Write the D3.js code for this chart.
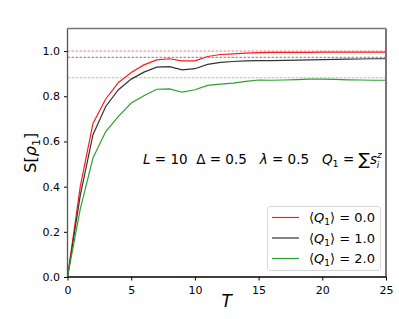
<!DOCTYPE html>
<html>
<head>
<meta charset="utf-8">
<script src="https://cdn.jsdelivr.net/npm/d3@7"></script>
<style>
  body { margin: 0; background: #fff; }
  text { font-family: "DejaVu Sans", sans-serif; white-space: pre; }
</style>
</head>
<body>
<div id="chart"></div>
<script>
var w = 399;
var h = 319;

// T = 0..25
var times = d3.range(0, 26);
var q0 = [0, 0.40, 0.68, 0.788, 0.861, 0.905, 0.939, 0.961, 0.966, 0.957, 0.957, 0.976, 0.985, 0.988, 0.991, 0.993, 0.994, 0.994, 0.994, 0.994, 0.995, 0.995, 0.995, 0.995, 0.995, 0.995];
var q1 = [0, 0.36, 0.63, 0.755, 0.829, 0.876, 0.907, 0.929, 0.931, 0.917, 0.922, 0.941, 0.950, 0.954, 0.957, 0.958, 0.958, 0.959, 0.960, 0.961, 0.962, 0.963, 0.964, 0.965, 0.966, 0.966];
var q2 = [0, 0.30, 0.527, 0.644, 0.711, 0.770, 0.802, 0.831, 0.833, 0.818, 0.829, 0.848, 0.854, 0.858, 0.866, 0.872, 0.871, 0.872, 0.874, 0.876, 0.876, 0.875, 0.873, 0.872, 0.871, 0.871];
var limits = [1.0, 0.972, 0.882];
var labels = ["0.0", "1.0", "2.0"];
var colors = ["#ff1a1a", "#333333", "#2ca02c"];
var dashColors = ["#ff6666", "#999999", "#88cc88"];
var xTicks = [0, 5, 10, 15, 20, 25];
var yTicks = [0, 0.2, 0.4, 0.6, 0.8, 1.0];

var margin = { left: 67.5, right: 13, top: 28.5, bottom: 42 };

var svg = d3.select("#chart")
  .append("svg")
  .attr("width", w)
  .attr("height", h);

var x = d3.scaleLinear()
  .domain([0, 25])
  .range([margin.left, w - margin.right]);

var y = d3.scaleLinear()
  .domain([0, 1.1])
  .range([h - margin.bottom, margin.top]);

// dashed reference lines
svg.selectAll(".ref")
  .data(limits)
  .enter()
  .append("line")
  .attr("x1", x(0))
  .attr("x2", x(25))
  .attr("y1", function(d) { return y(d); })
  .attr("y2", function(d) { return y(d); })
  .attr("stroke", function(d, i) { return dashColors[i]; })
  .attr("stroke-width", function(d, i) { return i == 1 ? 1.4 : 0.9; })
  .attr("stroke-dasharray", "2.5,1.5");

var line = d3.line()
  .x(function(d, i) { return x(times[i]); })
  .y(function(d) { return y(d); });

svg.selectAll(".curve")
  .data([q0, q1, q2])
  .enter()
  .append("path")
  .attr("d", line)
  .attr("fill", "none")
  .attr("stroke", function(d, i) { return colors[i]; })
  .attr("stroke-width", 1.2);

// axes
var xAxis = d3.axisBottom(x).tickValues(xTicks).tickSize(3.5).tickFormat(d3.format("d"));
var yAxis = d3.axisLeft(y).tickValues(yTicks).tickSize(3.5).tickFormat(d3.format(".1f"));

svg.append("g")
  .attr("transform", "translate(0," + y(0) + ")")
  .call(xAxis)
  .call(function(g) {
    g.select(".domain").remove();
    g.selectAll("text").attr("font-size", 11).attr("fill", "#000").attr("dy", "0.95em");
  });

svg.append("g")
  .attr("transform", "translate(" + x(0) + ",0)")
  .call(yAxis)
  .call(function(g) {
    g.select(".domain").remove();
    g.selectAll("text").attr("font-size", 11).attr("fill", "#000").attr("dx", "-0.1em");
  });

// frame
svg.append("line").attr("x1", x(0)).attr("x2", x(25)).attr("y1", y(1.1)).attr("y2", y(1.1))
  .attr("stroke", "#777").attr("stroke-width", 1.3);
svg.append("line").attr("x1", x(25)).attr("x2", x(25)).attr("y1", y(1.1)).attr("y2", y(0))
  .attr("stroke", "#777").attr("stroke-width", 2);
svg.append("line").attr("x1", x(0)).attr("x2", x(0)).attr("y1", y(1.1)).attr("y2", y(0))
  .attr("stroke", "#555").attr("stroke-width", 1.3);
svg.append("line").attr("x1", x(0)).attr("x2", x(25)).attr("y1", y(0)).attr("y2", y(0))
  .attr("stroke", "#000").attr("stroke-width", 1.3);

// axis labels
svg.append("text")
  .attr("x", x(12.5))
  .attr("y", 307)
  .attr("text-anchor", "middle")
  .attr("font-size", 17)
  .attr("font-style", "italic")
  .text("T");

var ylab = svg.append("text")
  .attr("transform", "translate(36," + y(0.55) + ") rotate(-90)")
  .attr("text-anchor", "middle")
  .attr("font-size", 16);
ylab.append("tspan").text("S[");
ylab.append("tspan").attr("font-style", "italic").text("ρ");
ylab.append("tspan").attr("font-size", 11).attr("dy", 4).text("1");
ylab.append("tspan").attr("dy", -4).text("]");

// annotation
var ann = svg.append("text")
  .attr("x", 143)
  .attr("y", 164)
  .attr("font-size", 13.5);
ann.append("tspan").attr("font-style", "italic").text("L");
ann.append("tspan").text(" = 10  Δ = 0.5   ");
ann.append("tspan").attr("font-style", "italic").text("λ");
ann.append("tspan").text(" = 0.5   ");
ann.append("tspan").attr("font-style", "italic").text("Q");
ann.append("tspan").attr("font-size", 9.5).attr("dy", 3).text("1");
ann.append("tspan").attr("dy", -3).text(" = ");
ann.append("tspan").attr("font-size", 17).attr("dy", 1).text("∑");
ann.append("tspan").attr("font-style", "italic").attr("dy", -1).text("s");
ann.append("tspan").attr("font-style", "italic").attr("font-size", 9).attr("dy", -6).text("z");
ann.append("tspan").attr("font-style", "italic").attr("font-size", 9).attr("dx", -5).attr("dy", 10).text("i");

// legend
var lg = svg.append("g");
lg.append("rect")
  .attr("x", 267.5)
  .attr("y", 206.5)
  .attr("width", 113)
  .attr("height", 64)
  .attr("rx", 3)
  .attr("fill", "#fff")
  .attr("fill-opacity", 0.85)
  .attr("stroke", "#d6d6d6")
  .attr("stroke-width", 1);

var entry = lg.selectAll(".entry")
  .data(labels)
  .enter()
  .append("g")
  .attr("transform", function(d, i) { return "translate(0," + (217.5 + i * 20.5) + ")"; });

entry.append("line")
  .attr("x1", 272)
  .attr("x2", 299)
  .attr("stroke", function(d, i) { return colors[i]; })
  .attr("stroke-width", 1.2);

var et = entry.append("text")
  .attr("x", 309)
  .attr("y", 4.5)
  .attr("font-size", 13);
et.append("tspan").text("⟨");
et.append("tspan").attr("font-style", "italic").text("Q");
et.append("tspan").attr("font-size", 9).attr("dy", 3).text("1");
et.append("tspan").attr("dy", -3).text("⟩ = ");
et.append("tspan").text(function(d) { return d; });
</script>
</body>
</html>
